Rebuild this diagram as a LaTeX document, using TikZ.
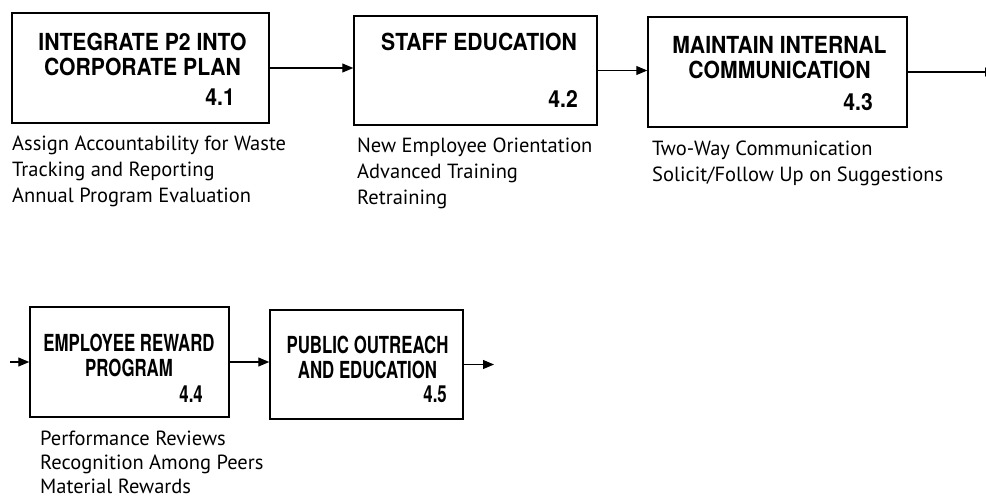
\documentclass[tikz,border=0pt]{standalone}
\usepackage{fontspec}
\setmainfont{PT Sans}
\newfontfamily\headfont[FakeStretch=0.9]{TeX Gyre Heros}
\newfontfamily\narrowfont[FakeStretch=0.715]{TeX Gyre Heros}
\usetikzlibrary{positioning,arrows.meta}
\tikzset{
  procbox/.style={draw,line width=1.5pt,inner sep=0pt},
  proctitle/.style={font=\headfont\bfseries\fontsize{23.5}{25}\selectfont,align=center,inner sep=0pt,anchor=north},
  procnum/.style={font=\headfont\bfseries\fontsize{23.5}{25}\selectfont,inner sep=0pt,anchor=base east},
  narrow/.style={font=\narrowfont\bfseries\fontsize{23.5}{25}\selectfont},
  procnotes/.style={font=\fontsize{20.5}{26}\selectfont,align=left,inner sep=0pt,anchor=north west},
  flow/.style={line width=1.2pt,-{Triangle[length=11pt,width=9pt]}}
}
\begin{document}
\begin{tikzpicture}[x=1pt,y=-1pt]
      \useasboundingbox (0,0) rectangle (986,498);
      % first row
      \node (plan) at (140.5,68) [procbox,minimum width=257pt,minimum height=110pt] {};
      \node (staff) at (475.5,70.5) [procbox,minimum width=243pt,minimum height=109pt] {};
      \node (comm) at (777.5,72) [procbox,minimum width=259pt,minimum height=110pt] {};
      \node (planT) at (142.5,33) [proctitle] {INTEGRATE P2 INTO\\CORPORATE PLAN};
      \node (staffT) at (479,33) [proctitle] {STAFF EDUCATION};
      \node (commT) at (779.5,36) [proctitle] {MAINTAIN INTERNAL\\COMMUNICATION};
      \node (planN) at (235,105) [procnum] {4.1};
      \node (staffN) at (578,107) [procnum] {4.2};
      \node (commN) at (873,110) [procnum] {4.3};
      \node (planL) at (12,136) [procnotes] {Assign Accountability for Waste\\Tracking and Reporting\\Annual Program Evaluation};
      \node (staffL) at (357,138) [procnotes] {New Employee Orientation\\Advanced Training\\Retraining};
      \node (commL) at (652,141) [procnotes] {Two-Way Communication\\Solicit/Follow Up on Suggestions};
      \coordinate (offR) at (996,72);
      \draw[flow] (plan.east) -- (plan.east -| staff.west);
      \draw[flow] (staff.east) -- (staff.east -| comm.west);
      \draw[flow] (comm.east) -- (comm.east -| offR);
      % second row
      \node (reward) at (129.5,362) [procbox,minimum width=199pt,minimum height=110pt] {};
      \node (outreach) at (366.5,364.5) [procbox,minimum width=193pt,minimum height=109pt] {};
      \node (rewardT) at (129,334) [proctitle,narrow] {EMPLOYEE REWARD\\PROGRAM};
      \node (outreachT) at (367.5,336) [proctitle,narrow] {PUBLIC OUTREACH\\AND EDUCATION};
      \node (rewardN) at (203,402) [procnum,narrow] {4.4};
      \node (outreachN) at (447,402) [procnum,narrow] {4.5};
      \node (rewardL) at (40,431) [procnotes,font=\fontsize{20.5}{24}\selectfont] {Performance Reviews\\Recognition Among Peers\\Material Rewards};
      \coordinate (inL) at (10,362);
      \coordinate (outE) at (494,364);
      \draw[flow] (inL) -- (inL -| reward.west);
      \draw[flow] (reward.east) -- (reward.east -| outreach.west);
      \draw[flow] (outreach.east) -- (outreach.east -| outE);
\end{tikzpicture}
\end{document}
